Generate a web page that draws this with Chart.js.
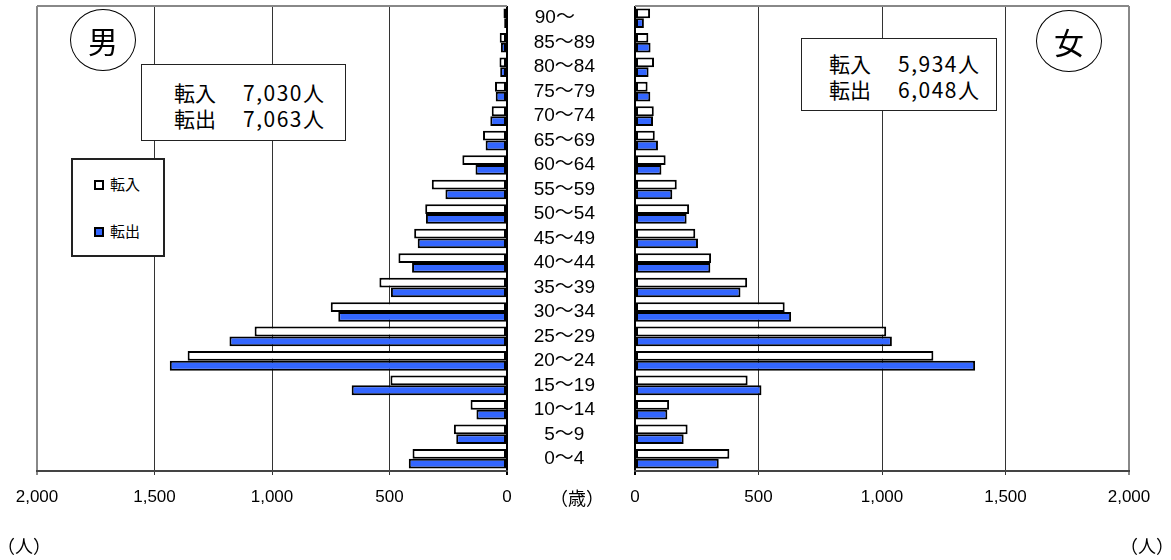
<!DOCTYPE html>
<html lang="ja">
<head>
<meta charset="utf-8">
<script src="https://cdn.jsdelivr.net/npm/chart.js@4.4.1/dist/chart.umd.min.js"></script>
<style>
  body { margin: 0; width: 1171px; height: 560px; position: relative; background: #fff; overflow: hidden;
         font-family: "Noto Sans CJK JP", sans-serif; color: #000; }
  canvas { position: absolute; top: 0; }
  #male { left: 0; }
  #female { left: 520px; }
  .circle { position: absolute; width: 64px; height: 60px; border: 1px solid #000; border-radius: 50%;
            display: flex; align-items: center; justify-content: center; font-size: 30px; background: #fff; }
  .total { position: absolute; border: 1px solid #222; background: #fff; font-size: 21px; box-sizing: border-box; }
  .total span { letter-spacing: 1.5px; margin-left: 6px; }
  .legend { position: absolute; left: 71px; top: 158px; width: 94px; height: 99px; border: 2px solid #222;
            box-sizing: border-box; background: #fff; font-size: 15px; }
  .legend .sq { position: absolute; left: 21px; width: 6px; height: 6px; border: 2px solid #000; }
  .legend .lb { position: absolute; left: 37px; line-height: 20px; }
  .note { position: absolute; font-size: 18px; line-height: 20px; }
</style>
</head>
<body>
<canvas id="male" width="520" height="560"></canvas>
<canvas id="female" width="651" height="560"></canvas>

<div class="circle" style="left:70px; top:9px;">男</div>
<div class="circle" style="left:1036px; top:10px;">女</div>

<div class="total" style="left:141px; top:64px; width:205px; height:77px; padding:14px 0 0 32px; line-height:26px;">
  転入　<span>7,030人</span><br>転出　<span>7,063人</span>
</div>
<div class="total" style="left:801px; top:38px; width:196px; height:73px; padding:12px 0 0 27px; line-height:25.5px;">
  転入　<span>5,934人</span><br>転出　<span>6,048人</span>
</div>

<div class="legend">
  <div class="sq" style="top:20px; background:#fff;"></div>
  <div class="lb" style="top:14px;">転入</div>
  <div class="sq" style="top:67px; background:#3366ff;"></div>
  <div class="lb" style="top:61px;">転出</div>
</div>

<div class="note" style="left:550px; top:487px;">（歳）</div>
<div class="note" style="left:-3px; top:535px;">（人）</div>
<div class="note" style="left:1120px; top:535px;">（人）</div>

<script>
// age groups, bottom to top
const ages = ['0～4', '5～9', '10～14', '15～19', '20～24', '25～29', '30～34', '35～39', '40～44',
              '45～49', '50～54', '55～59', '60～64', '65～69', '70～74', '75～79', '80～84', '85～89', '90～　'];

// 男
const maleIn  = [402, 226, 155, 496, 1359, 1074, 750, 543, 462, 395, 348, 320, 190, 102, 65, 51, 32, 31, 15];
const maleOut = [418, 216, 130, 661, 1435, 1181, 718, 494, 404, 380, 345, 262, 134, 91, 71, 48, 29, 26, 12];

// 女
const femaleIn  = [382, 213, 138, 456, 1208, 1017, 606, 454, 308, 244, 219, 169, 124, 80, 76, 51, 77, 54, 61];
const femaleOut = [339, 197, 131, 512, 1377, 1040, 632, 427, 305, 255, 209, 151, 107, 93, 73, 62, 55, 63, 36];

const xTicks = [0, 500, 1000, 1500, 2000];
const labelFont = { family: '"Liberation Sans", "Noto Sans CJK JP", sans-serif', size: 17 };

// gray line along the top of the plot area
const topLine = {
    id: 'topLine',
    afterDraw(chart) {
        const { ctx, chartArea } = chart;
        ctx.save();
        ctx.strokeStyle = '#888';
        ctx.lineWidth = 2;
        ctx.beginPath();
        ctx.moveTo(chartArea.left, chartArea.top);
        ctx.lineTo(chartArea.right, chartArea.top);
        ctx.stroke();
        ctx.restore();
    }
};

function gridColor(c) {
    if (c.tick.value === 0) return '#000';
    if (c.tick.value === 2000) return '#888';
    return '#333';
}

function makeChart(canvasId, inData, outData, isMale) {
    const yScale = isMale
        ? { type: 'category', labels: ages, reverse: true, display: false }
        : {
            type: 'category', labels: ages, reverse: true, position: 'left',
            grid: { display: false, drawTicks: false },
            border: { display: false },
            ticks: { color: '#000', font: { family: '"Liberation Sans", "Noto Sans CJK JP", sans-serif', size: 19 },
                     crossAlign: 'center', padding: 40, autoSkip: false },
            // fixed width; drop the label overhang padding so the plot keeps its top
            afterFit: s => { s.width = 115; s.paddingTop = 0; s.paddingBottom = 0; }
        };

    return new Chart(document.getElementById(canvasId), {
        type: 'bar',
        data: {
            labels: ages,
            datasets: [
                { label: '転入', data: inData, backgroundColor: '#fff', borderColor: '#000',
                  borderWidth: 2, borderSkipped: false, categoryPercentage: 0.8, barPercentage: 1.0 },
                { label: '転出', data: outData, backgroundColor: '#3366ff', borderColor: '#000',
                  borderWidth: 2, borderSkipped: false, categoryPercentage: 0.8, barPercentage: 1.0 }
            ]
        },
        options: {
            indexAxis: 'y',
            responsive: false,
            animation: false,
            events: [],
            layout: { padding: isMale ? { left: 37, right: 13, top: 6, bottom: 0 } : { left: 0, right: 42, top: 6, bottom: 0 } },
            plugins: { legend: { display: false }, tooltip: { enabled: false } },
            scales: {
                x: {
                    type: 'linear', min: 0, max: 2000, reverse: isMale,
                    afterBuildTicks: s => { s.ticks = xTicks.map(v => ({ value: v })); },
                    ticks: {
                        color: '#000', font: labelFont, padding: 12, maxRotation: 0, autoSkip: false,
                        callback: v => String(v).replace(/\B(?=(\d{3})+(?!\d))/g, ',')
                    },
                    grid: {
                        color: gridColor,
                        lineWidth: c => (c.tick.value === 0 || c.tick.value === 2000) ? 2 : 1,
                        drawTicks: true, tickLength: 4
                    },
                    border: { display: true, color: '#444', width: 2 },
                    afterFit: s => { s.height = 89; }
                },
                y: yScale
            }
        },
        plugins: [topLine]
    });
}

makeChart('male', maleIn, maleOut, true);
makeChart('female', femaleIn, femaleOut, false);
</script>
</body>
</html>
